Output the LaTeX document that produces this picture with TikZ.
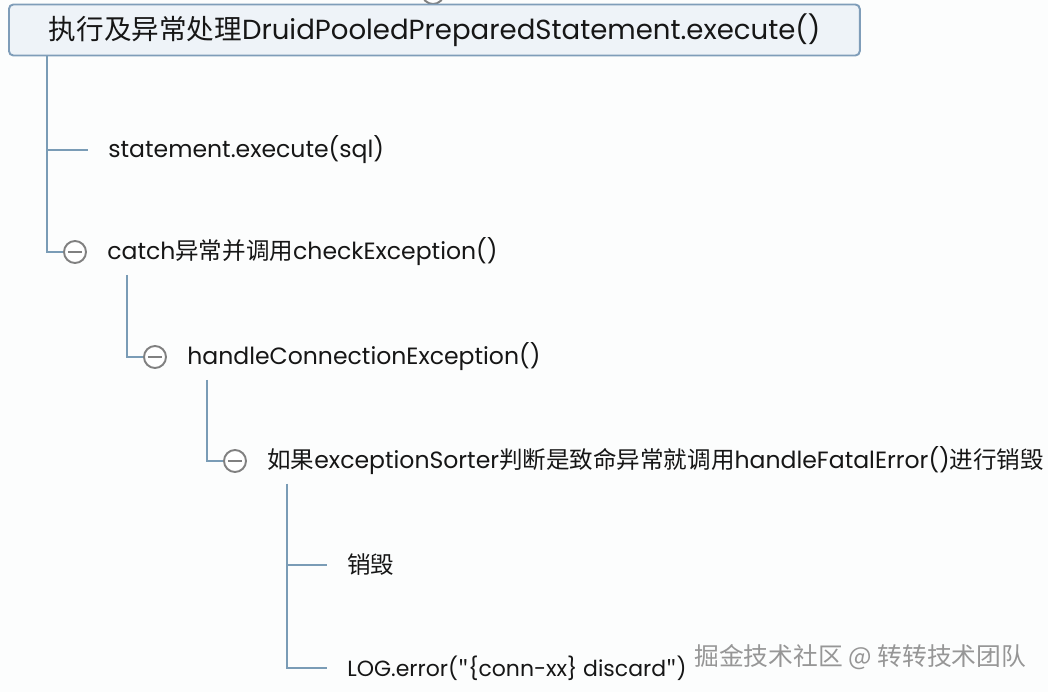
\documentclass[tikz,border=0pt]{standalone}
\usepackage{fontspec}
\setmainfont{Poppins}
\newfontfamily\cjk{Noto Sans CJK SC}
\newcommand{\zh}[1]{{\cjk #1}}
\usetikzlibrary{positioning}
\definecolor{branchblue}{RGB}{122,156,182}
\definecolor{boxfill}{RGB}{238,243,248}
\definecolor{boxline}{RGB}{127,157,185}
\definecolor{togglegray}{RGB}{128,128,128}
\definecolor{inkblack}{RGB}{22,22,22}
\definecolor{markgray}{RGB}{150,150,150}
\definecolor{paper}{RGB}{252,253,253}
\tikzset{
  branch/.style={draw=branchblue, line width=1.2pt},
  rootbox/.style={draw=boxline, fill=boxfill, line width=1.1pt, rounded corners=2.5pt,
    anchor=west, inner xsep=0.8cm, text width=15.42cm, minimum height=1.02cm, align=left,
    font=\fontsize{15.7}{18}\selectfont, text=inkblack},
  toggle/.style={circle, draw=togglegray, line width=1.1pt, fill=white, minimum size=0.44cm,
    inner sep=0pt, path picture={\draw[togglegray, line width=1.1pt]
      ([xshift=2.2pt]path picture bounding box.west) -- ([xshift=-2.2pt]path picture bounding box.east);}},
  item/.style={anchor=west, inner xsep=0.4cm, font=\fontsize{13.4}{16}\selectfont, text=inkblack},
}
\begin{document}
\begin{tikzpicture}[x=0.02cm, y=-0.02cm]
    \fill[paper] (0,0) rectangle (1048,692);
    \useasboundingbox (0,0) rectangle (1048,692);
    % Radice
    \node[toggle] (t0) at (433,-7) {};
    \node[rootbox] (root) at (8,30) {\zh{执行及异常处理}DruidPooledPreparedStatement.execute()};
    % Primo livello
    \node[item] (n1) at (88,150) {statement.execute(sql)};
    \node[toggle] (t2) at (75,252) {};
    \node[item, right=0pt of t2] (n2) {catch\zh{异常并调用}checkException()};
    \draw[branch] ([xshift=0.78cm]root.south west) |- (n1.west);
    \draw[branch] ([xshift=0.78cm]root.south west) |- (t2);
    % Secondo livello
    \node[toggle] (t3) at (155,357) {};
    \node[item, right=0pt of t3] (n3) {handleConnectionException()};
    \draw[branch] ([xshift=1.04cm, yshift=-0.46cm]t2.center) |- (t3);
    % Terzo livello
    \node[toggle] (t4) at (235,461) {};
    \node[item, right=0pt of t4] (n4) {\zh{如果}exceptionSorter\zh{判断是致命异常就调用}handleFatalError()\zh{进行销毁}};
    \draw[branch] ([xshift=1.04cm, yshift=-0.46cm]t3.center) |- (t4);
    % Foglie
    \node[item] (n5) at (327,565) {\zh{销毁}};
    \node[item, font=\fontsize{12.5}{16}\selectfont] (n6) at (327,668) {LOG.error(\zh{"}\{conn-xx\} discard\zh{"})};
    \draw[branch] ([xshift=1.04cm, yshift=-0.46cm]t4.center) |- (n5.west);
    \draw[branch] ([xshift=1.04cm, yshift=-0.46cm]t4.center) |- (n6.west);
    % Filigrana
    \node[anchor=west, inner sep=0pt, text=markgray, font=\fontsize{14.1}{16}\selectfont] (mark) at (694,657)
      {\zh{掘金技术社区 @ 转转技术团队}};
\end{tikzpicture}
\end{document}
